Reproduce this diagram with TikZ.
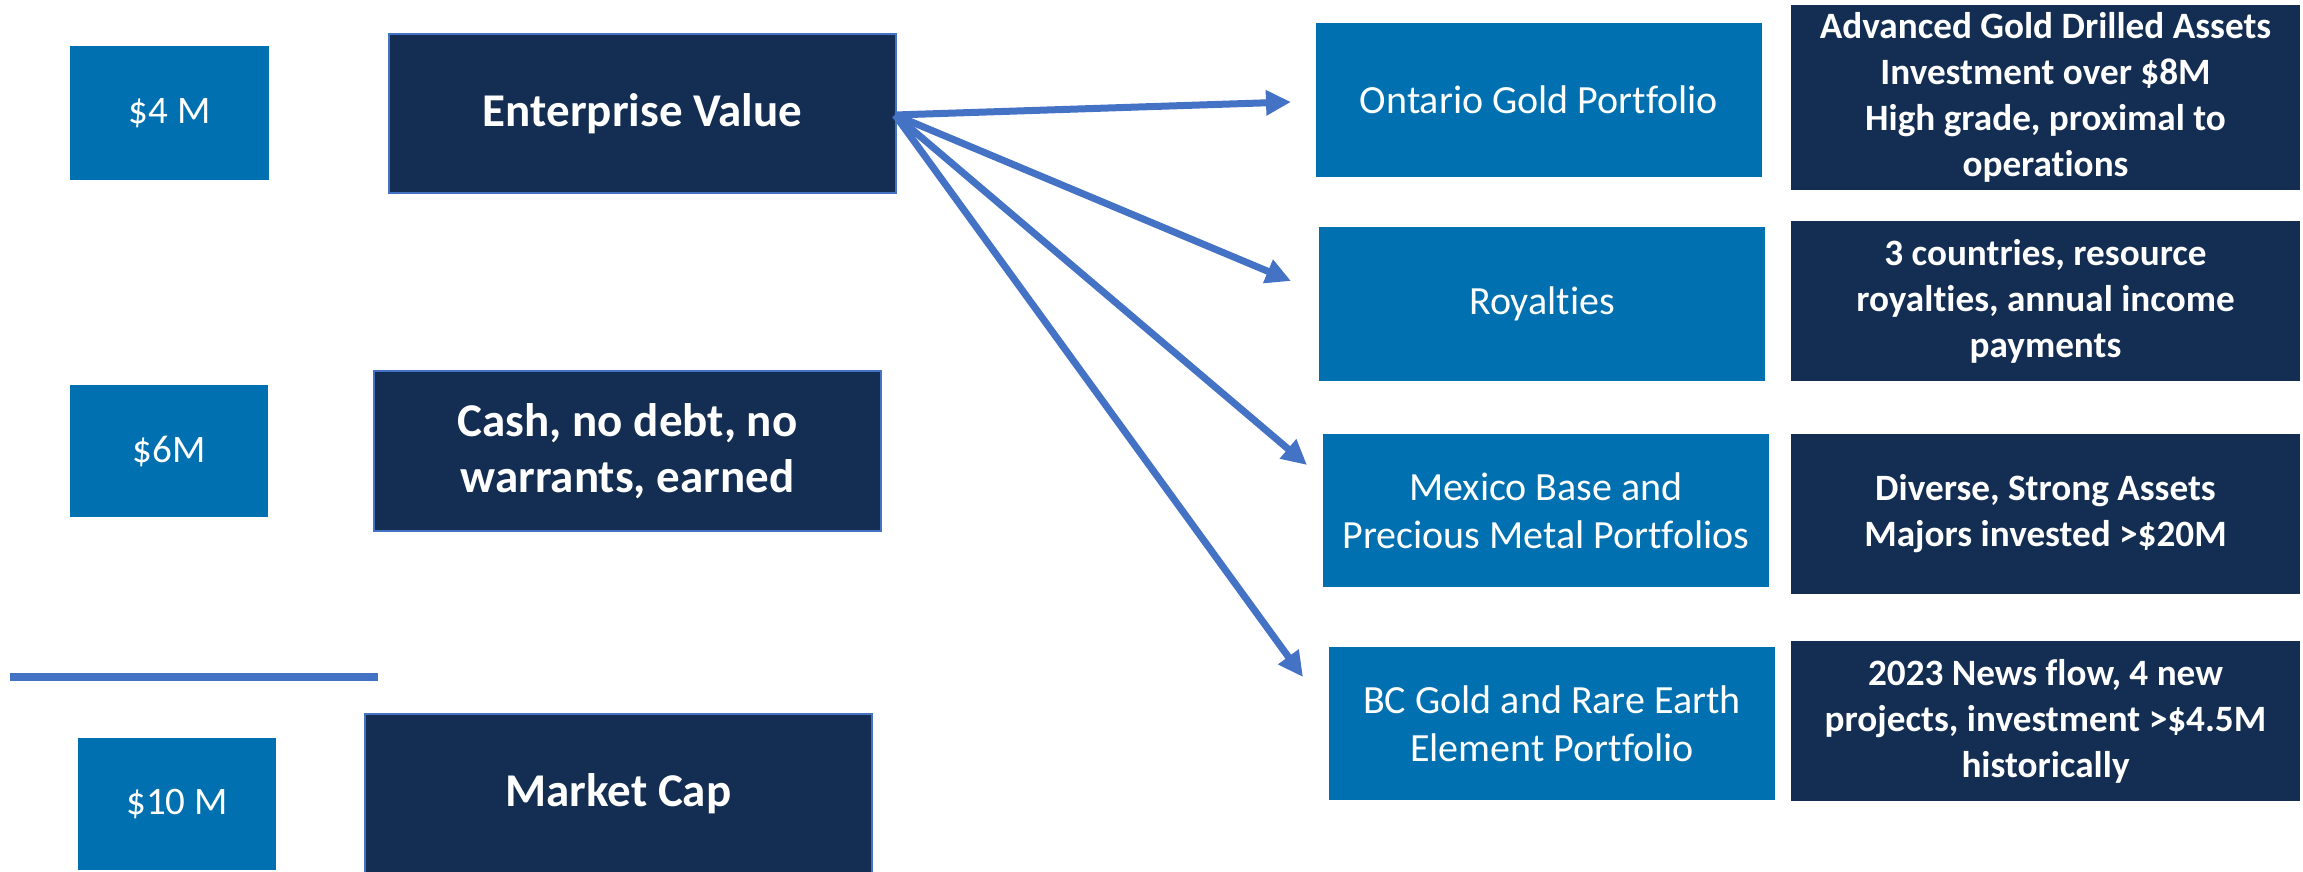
\documentclass[tikz,border=0pt]{standalone}
\usepackage{fontspec}
\setmainfont[Ligatures=NoCommon]{Carlito}
\usetikzlibrary{arrows.meta}
\definecolor{mblue}{HTML}{0070B0}
\definecolor{navy}{HTML}{132E52}
\definecolor{arrowblue}{HTML}{4472C4}
\tikzset{
  smallbox/.style={fill=mblue, text=white, inner sep=0pt, align=center,
    font=\fontsize{19.5pt}{24pt}\selectfont},
  leftdark/.style={fill=navy, draw=arrowblue, line width=0.8pt, text=white, inner sep=0pt, align=center,
    font=\fontsize{23.5pt}{28pt}\selectfont\bfseries},
  portbox/.style={fill=mblue, text=white, inner sep=0pt, align=center,
    font=\fontsize{20pt}{24pt}\selectfont},
  infobox/.style={fill=navy, text=white, inner sep=0pt, align=center,
    font=\fontsize{18.6pt}{23pt}\selectfont\bfseries},
  conn/.style={draw=arrowblue, line width=3.5pt, -{Triangle[length=12.5pt,width=12pt]}},
}
\begin{document}
\begin{tikzpicture}[x=0.5pt,y=-0.5pt]
\useasboundingbox (0,0) rectangle (2303,872);
% left column
\node[smallbox, minimum width=99.5pt, minimum height=67pt] (s4) at (169.5,113) {\$4 M};
\node[leftdark, minimum width=253.5pt, minimum height=79.5pt] (ev) at (642.5,113.5) {Enterprise Value};
\node[smallbox, minimum width=99pt, minimum height=66pt] (s6) at (169,451) {\$6M};
\node[leftdark, minimum width=253.5pt, minimum height=80pt] (cash) at (627.5,451) {Cash, no debt, no\\warrants, earned};
\coordinate (l1) at (10,677);
\coordinate (l2) at (378,677);
\draw[arrowblue, line width=4pt] (l1) -- (l2);
\node[smallbox, minimum width=99pt, minimum height=66pt] (s10) at (177,804) {\$10 M};
\node[leftdark, minimum width=253.5pt, minimum height=79.5pt] (mc) at (618.5,793.5) {Market Cap};
% right column
\node[portbox, minimum width=223pt, minimum height=77pt] (ont) at (1539,100) {Ontario Gold Portfolio};
\node[infobox, minimum width=254.5pt, minimum height=92.5pt] (adv) at (2045.5,97.5) {Advanced Gold Drilled Assets\\Investment over \$8M\\High grade, proximal to\\operations};
\node[portbox, minimum width=223pt, minimum height=77pt] (roy) at (1542,304) {Royalties};
\node[infobox, minimum width=254.5pt, minimum height=80pt] (cty) at (2045.5,301) {3 countries, resource\\royalties, annual income\\payments};
\node[portbox, minimum width=223pt, minimum height=76.5pt] (mex) at (1546,510.5) {Mexico Base and\\Precious Metal Portfolios};
\node[infobox, minimum width=254.5pt, minimum height=80pt] (div) at (2045.5,514) {Diverse, Strong Assets\\Majors invested >\$20M};
\node[portbox, minimum width=223pt, minimum height=76.5pt] (bc) at (1552,723.5) {BC Gold and Rare Earth\\Element Portfolio};
\node[infobox, minimum width=254.5pt, minimum height=80pt] (news) at (2045.5,721) {2023 News flow, 4 new\\projects, investment >\$4.5M\\historically};
% arrows
\coordinate (src) at (895,115);
\coordinate (t1) at (1291,102);
\coordinate (t2) at (1291,281);
\coordinate (t3) at (1307,465);
\coordinate (t4) at (1303,677);
\draw[conn] (src) -- (t1);
\draw[conn] (src) -- (t2);
\draw[conn] (src) -- (t3);
\draw[conn] (src) -- (t4);
\end{tikzpicture}
\end{document}
